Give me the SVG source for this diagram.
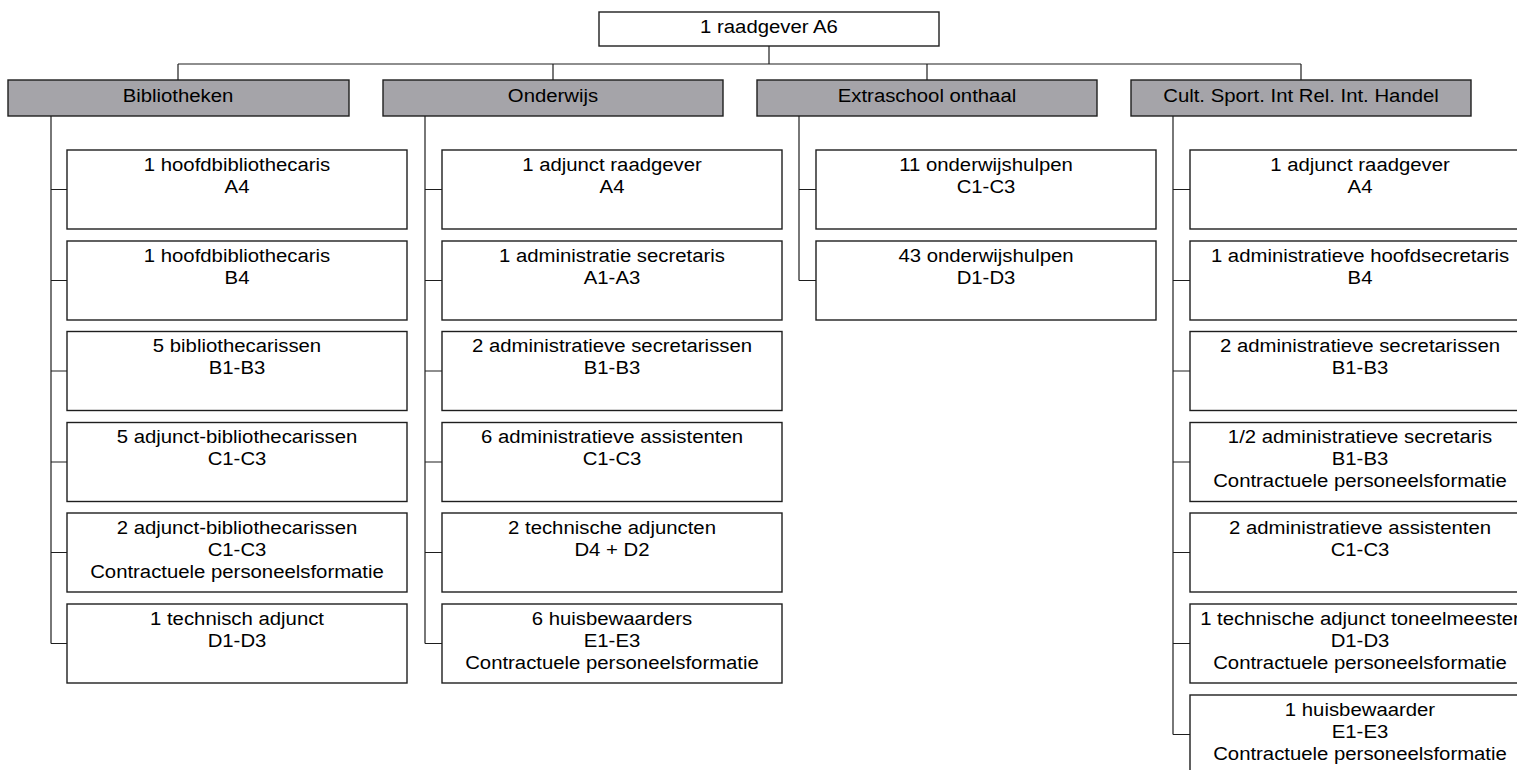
<svg xmlns="http://www.w3.org/2000/svg" width="1517" height="770" viewBox="0 0 1517 770">
<style>
.box{fill:#ffffff;stroke:#1e1e1e;stroke-width:1.4}
.hdr{fill:#a5a4a9;stroke:#1e1e1e;stroke-width:1.4}
.t{font-family:"Liberation Sans",Arial,sans-serif;font-size:18px;fill:#000;text-anchor:middle}
.c{fill:none;stroke:#1e1e1e;stroke-width:1.2}
</style>
<rect width="1517" height="770" fill="#ffffff"/>
<g id="connectors">
<path class="c" d="M769 46V64M178 64H1301M178 64V80M553 64V80M927 64V80M1301 64V80"/>
<path class="c" d="M51 116V643.5M51 189.5H67M51 280.5H67M51 371H67M51 462H67M51 552.5H67M51 643.5H67"/>
<path class="c" d="M425 116V643.5M425 189.5H442M425 280.5H442M425 371H442M425 462H442M425 552.5H442M425 643.5H442"/>
<path class="c" d="M799 116V280.5M799 189.5H816M799 280.5H816"/>
<path class="c" d="M1173 116V734.5M1173 189.5H1190M1173 280.5H1190M1173 371H1190M1173 462H1190M1173 552.5H1190M1173 643.5H1190M1173 734.5H1190"/>
</g>
<g id="top"><rect class="box" x="599" y="12" width="340" height="34"/><text class="t" transform="translate(769 0) scale(1.13 1)"><tspan x="0" y="33">1 raadgever A6</tspan></text></g>
<g id="h-bib"><rect class="hdr" x="8" y="80" width="341" height="36"/><text class="t" transform="translate(178 0) scale(1.13 1)"><tspan x="0" y="102">Bibliotheken</tspan></text></g>
<g id="h-ond"><rect class="hdr" x="383" y="80" width="340" height="36"/><text class="t" transform="translate(553 0) scale(1.13 1)"><tspan x="0" y="102">Onderwijs</tspan></text></g>
<g id="h-ext"><rect class="hdr" x="757" y="80" width="340" height="36"/><text class="t" transform="translate(927 0) scale(1.13 1)"><tspan x="0" y="102">Extraschool onthaal</tspan></text></g>
<g id="h-cult"><rect class="hdr" x="1131" y="80" width="340" height="36"/><text class="t" transform="translate(1301 0) scale(1.13 1)"><tspan x="0" y="102">Cult. Sport. Int Rel. Int. Handel</tspan></text></g>

<g id="b1"><rect class="box" x="67" y="150" width="340" height="79"/><text class="t" transform="translate(237 0) scale(1.13 1)"><tspan x="0" y="171">1 hoofdbibliothecaris</tspan><tspan x="0" y="193">A4</tspan></text></g>
<g id="b2"><rect class="box" x="67" y="241" width="340" height="79"/><text class="t" transform="translate(237 0) scale(1.13 1)"><tspan x="0" y="262">1 hoofdbibliothecaris</tspan><tspan x="0" y="284">B4</tspan></text></g>
<g id="b3"><rect class="box" x="67" y="331.5" width="340" height="79"/><text class="t" transform="translate(237 0) scale(1.13 1)"><tspan x="0" y="352.5">5 bibliothecarissen</tspan><tspan x="0" y="374.5">B1-B3</tspan></text></g>
<g id="b4"><rect class="box" x="67" y="422.5" width="340" height="79"/><text class="t" transform="translate(237 0) scale(1.13 1)"><tspan x="0" y="443.5">5 adjunct-bibliothecarissen</tspan><tspan x="0" y="465.5">C1-C3</tspan></text></g>
<g id="b5"><rect class="box" x="67" y="513" width="340" height="79"/><text class="t" transform="translate(237 0) scale(1.13 1)"><tspan x="0" y="534">2 adjunct-bibliothecarissen</tspan><tspan x="0" y="556">C1-C3</tspan><tspan x="0" y="578">Contractuele personeelsformatie</tspan></text></g>
<g id="b6"><rect class="box" x="67" y="604" width="340" height="79"/><text class="t" transform="translate(237 0) scale(1.13 1)"><tspan x="0" y="625">1 technisch adjunct</tspan><tspan x="0" y="647">D1-D3</tspan></text></g>

<g id="o1"><rect class="box" x="442" y="150" width="340" height="79"/><text class="t" transform="translate(612 0) scale(1.13 1)"><tspan x="0" y="171">1 adjunct raadgever</tspan><tspan x="0" y="193">A4</tspan></text></g>
<g id="o2"><rect class="box" x="442" y="241" width="340" height="79"/><text class="t" transform="translate(612 0) scale(1.13 1)"><tspan x="0" y="262">1 administratie secretaris</tspan><tspan x="0" y="284">A1-A3</tspan></text></g>
<g id="o3"><rect class="box" x="442" y="331.5" width="340" height="79"/><text class="t" transform="translate(612 0) scale(1.13 1)"><tspan x="0" y="352.5">2 administratieve secretarissen</tspan><tspan x="0" y="374.5">B1-B3</tspan></text></g>
<g id="o4"><rect class="box" x="442" y="422.5" width="340" height="79"/><text class="t" transform="translate(612 0) scale(1.13 1)"><tspan x="0" y="443.5">6 administratieve assistenten</tspan><tspan x="0" y="465.5">C1-C3</tspan></text></g>
<g id="o5"><rect class="box" x="442" y="513" width="340" height="79"/><text class="t" transform="translate(612 0) scale(1.13 1)"><tspan x="0" y="534">2 technische adjuncten</tspan><tspan x="0" y="556">D4 + D2</tspan></text></g>
<g id="o6"><rect class="box" x="442" y="604" width="340" height="79"/><text class="t" transform="translate(612 0) scale(1.13 1)"><tspan x="0" y="625">6 huisbewaarders</tspan><tspan x="0" y="647">E1-E3</tspan><tspan x="0" y="669">Contractuele personeelsformatie</tspan></text></g>

<g id="e1"><rect class="box" x="816" y="150" width="340" height="79"/><text class="t" transform="translate(986 0) scale(1.13 1)"><tspan x="0" y="171">11 onderwijshulpen</tspan><tspan x="0" y="193">C1-C3</tspan></text></g>
<g id="e2"><rect class="box" x="816" y="241" width="340" height="79"/><text class="t" transform="translate(986 0) scale(1.13 1)"><tspan x="0" y="262">43 onderwijshulpen</tspan><tspan x="0" y="284">D1-D3</tspan></text></g>

<g id="c1"><rect class="box" x="1190" y="150" width="340" height="79"/><text class="t" transform="translate(1360 0) scale(1.13 1)"><tspan x="0" y="171">1 adjunct raadgever</tspan><tspan x="0" y="193">A4</tspan></text></g>
<g id="c2"><rect class="box" x="1190" y="241" width="340" height="79"/><text class="t" transform="translate(1360 0) scale(1.13 1)"><tspan x="0" y="262">1 administratieve hoofdsecretaris</tspan><tspan x="0" y="284">B4</tspan></text></g>
<g id="c3"><rect class="box" x="1190" y="331.5" width="340" height="79"/><text class="t" transform="translate(1360 0) scale(1.13 1)"><tspan x="0" y="352.5">2 administratieve secretarissen</tspan><tspan x="0" y="374.5">B1-B3</tspan></text></g>
<g id="c4"><rect class="box" x="1190" y="422.5" width="340" height="79"/><text class="t" transform="translate(1360 0) scale(1.13 1)"><tspan x="0" y="443.5">1/2 administratieve secretaris</tspan><tspan x="0" y="465.5">B1-B3</tspan><tspan x="0" y="487.5">Contractuele personeelsformatie</tspan></text></g>
<g id="c5"><rect class="box" x="1190" y="513" width="340" height="79"/><text class="t" transform="translate(1360 0) scale(1.13 1)"><tspan x="0" y="534">2 administratieve assistenten</tspan><tspan x="0" y="556">C1-C3</tspan></text></g>
<g id="c6"><rect class="box" x="1190" y="604" width="340" height="79"/><text class="t" transform="translate(1360 0) scale(1.13 1)"><tspan x="0" y="625">1 technische adjunct toneelmeester</tspan><tspan x="0" y="647">D1-D3</tspan><tspan x="0" y="669">Contractuele personeelsformatie</tspan></text></g>
<g id="c7"><rect class="box" x="1190" y="695" width="340" height="79"/><text class="t" transform="translate(1360 0) scale(1.13 1)"><tspan x="0" y="716">1 huisbewaarder</tspan><tspan x="0" y="738">E1-E3</tspan><tspan x="0" y="760">Contractuele personeelsformatie</tspan></text></g>
</svg>
